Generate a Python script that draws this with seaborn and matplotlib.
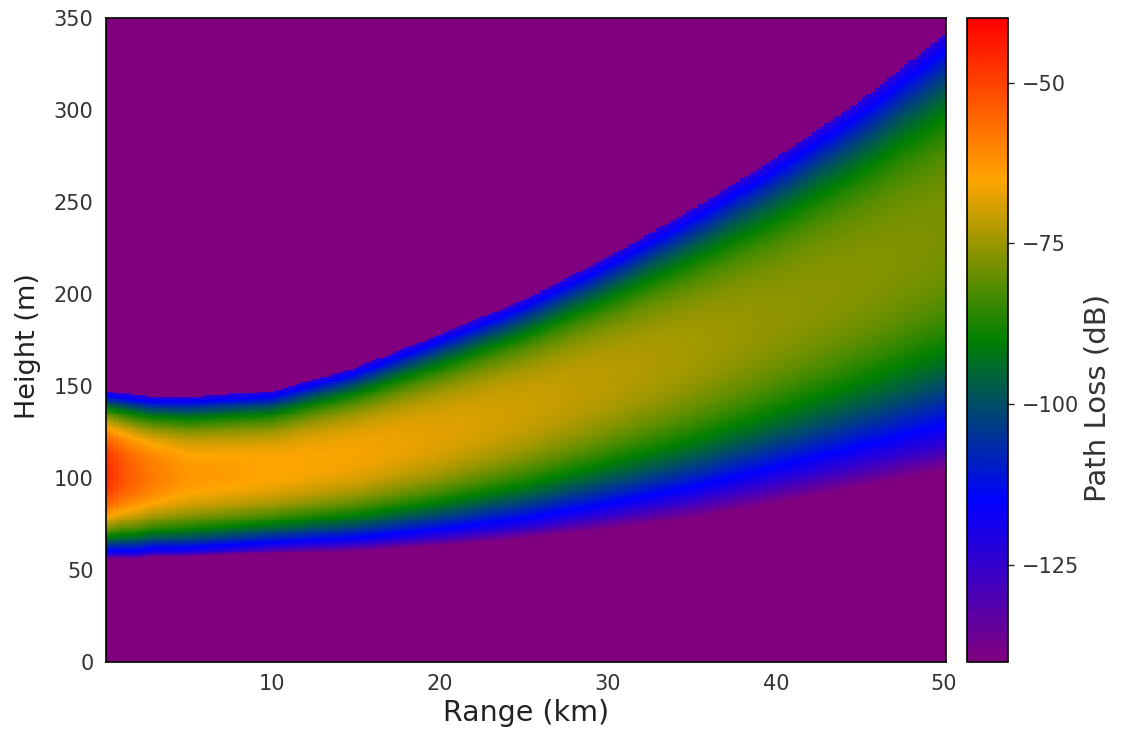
import numpy as np
import pandas as pd
import seaborn as sns
import matplotlib.pyplot as plt
from matplotlib.colors import LinearSegmentedColormap

#beam at these ranges (km)
station_km = [0.25, 1, 2, 3, 5, 10, 15, 20, 25, 30, 35, 40, 45, 50]
#strongest level along the beam (dB)
peak_db = [-47, -52, -56, -59, -63, -65, -66, -68, -70, -72, -74, -76, -77, -78]
#height of the strongest level (m)
centre_m = [102, 102, 101, 101, 101, 104, 112, 123, 137, 153, 169, 187, 208, 232]
#height where the blue edge of the beam ends, above and below (m)
top_edge_m = [147, 146, 145, 144, 144, 147, 160, 178, 197, 220, 246, 274, 305, 341]
bottom_edge_m = [58, 58, 58, 59, 59, 62, 64, 68, 73, 80, 88, 98, 108, 118]
#violet fringe under the lower edge (m)
bottom_tail_m = [2, 2, 2, 2, 2, 3, 4, 5, 6, 8, 10, 12, 13, 14]

floor_db = -140
ceiling_db = -40
edge_db = -124
range_ticks = [10, 20, 30, 40, 50]
height_ticks = [0, 50, 100, 150, 200, 250, 300, 350]
level_ticks = [-125, -100, -75, -50]
colour_stops = ["purple", "blue", "green", "orange", "red"]

#grid of the field
ranges = np.arange(0.25, 50.001, 0.25)
heights = np.arange(349.5, 0, -1.0)

peak = np.interp(ranges, station_km, peak_db)
centre = np.interp(ranges, station_km, centre_m)
top = np.interp(ranges, station_km, top_edge_m)
bottom = np.interp(ranges, station_km, bottom_edge_m)
tail = np.interp(ranges, station_km, bottom_tail_m)

H = heights[:, None]
above = (H - centre) / (top - centre)
below = (centre - H) / (centre - bottom)
u = np.where(H >= centre, above, below)
loss = peak - (peak - edge_db) * np.abs(u) ** np.where(H >= centre, 2.5, 2.2)
#outside the beam: floor above, short fade below
fade = edge_db - (edge_db - floor_db) * (bottom - H) / tail
loss = np.where(u > 1, np.where(H >= centre, floor_db, fade), loss)
loss = np.clip(loss, floor_db, ceiling_db)

table = pd.DataFrame(loss, index=heights, columns=ranges)

sns.set_style("white")
plt.rcParams["font.family"] = ["DejaVu Sans"]

cmap = LinearSegmentedColormap.from_list("pathloss", colour_stops)

fig = plt.figure(figsize=(11.21, 7.38), dpi=100)
ax = fig.add_axes([0.0946, 0.103, 0.7494, 0.8724])
cax = fig.add_axes([0.8626, 0.103, 0.0366, 0.8724])
sns.heatmap(table, ax=ax, cbar_ax=cax, cmap=cmap, vmin=floor_db, vmax=ceiling_db,
            xticklabels=False, yticklabels=False, rasterized=True)

#tick positions in heatmap cell units
x_pos = [(r - ranges[0]) / 0.25 + 0.5 for r in range_ticks]
y_pos = [350 - h for h in height_ticks]
ax.set_xticks(x_pos)
ax.set_xticklabels([str(r) for r in range_ticks])
ax.set_yticks(y_pos)
ax.set_yticklabels([str(h) for h in height_ticks], rotation=0)
ax.tick_params(axis="both", length=0, labelsize=15, labelcolor="#333333", pad=9)
ax.set_xlabel("Range (km)", fontsize=20.5, color="#222222", labelpad=3)
ax.set_ylabel("Height (m)", fontsize=19.5, color="#222222")
ax.yaxis.set_label_coords(-0.078, 0.49)
for s in ax.spines.values():
    s.set_visible(True)
    s.set_color("black")
    s.set_linewidth(1.2)

cb = ax.collections[0].colorbar
cb.set_ticks(level_ticks)
cb.outline.set_linewidth(1.2)
cb.outline.set_edgecolor("black")
cax.tick_params(length=4, width=1, labelsize=15, labelcolor="#333333", pad=6)
cb.set_label("Path Loss (dB)", fontsize=21, color="#333333")
cax.yaxis.set_label_coords(2.83, 0.41)

fig.savefig("out.png", dpi=100)
